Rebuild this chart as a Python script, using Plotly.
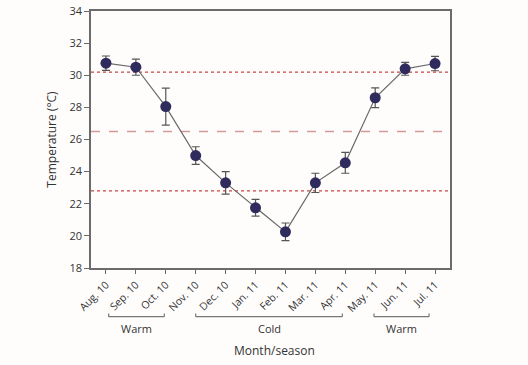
import plotly.graph_objects as go

months = ["Aug. 10", "Sep. 10", "Oct. 10", "Nov. 10", "Dec. 10", "Jan. 11",
          "Feb. 11", "Mar. 11", "Apr. 11", "May. 11", "Jun. 11", "Jul. 11"]
temps = [30.75, 30.5, 28.05, 25.0, 23.3, 21.75, 20.25, 23.3, 24.55, 28.6, 30.4, 30.73]
errs = [0.45, 0.5, 1.15, 0.55, 0.7, 0.52, 0.55, 0.6, 0.65, 0.62, 0.4, 0.45]
mean_line = 26.5
band_lines = [30.2, 22.8]
seasons = ["Warm", "Cold", "Warm"]
season_spans = [(0.09, 1.95), (3.0, 7.9), (8.96, 10.8)]

FONT = "Open Sans"
AX = "#6b6b6b"
BG = "#fefdfc"

fig = go.Figure()
fig.add_trace(go.Scatter(
    x=list(range(len(months))), y=temps,
    mode="lines+markers",
    line=dict(color="#6a6a6a", width=1.2),
    marker=dict(color="#2f2b5c", size=11),
    error_y=dict(type="data", array=errs, visible=True,
                 color="#555555", thickness=1.2, width=4),
    showlegend=False,
))

shapes = []
shapes.append(dict(type="line", xref="paper", yref="y", x0=0, x1=1,
                   y0=mean_line, y1=mean_line,
                   line=dict(color="#d49a9a", width=1.6, dash="dash"), layer="below"))
for v in band_lines:
    shapes.append(dict(type="line", xref="paper", yref="y", x0=0, x1=1, y0=v, y1=v,
                       line=dict(color="#cc4444", width=1.3, dash="dot"), layer="below"))

annotations = []
ybr = -0.1895
ytk = -0.177
for name, (a, b) in zip(seasons, season_spans):
    shapes.append(dict(type="line", xref="x", yref="paper", x0=a, x1=b, y0=ybr, y1=ybr,
                       line=dict(color="#777777", width=1.2)))
    for xx in (a, b):
        shapes.append(dict(type="line", xref="x", yref="paper", x0=xx, x1=xx, y0=ybr, y1=ytk,
                           line=dict(color="#777777", width=1.2)))
    annotations.append(dict(text=name, xref="x", yref="paper", x=(a + b) / 2, y=-0.237,
                            showarrow=False, font=dict(family=FONT, size=11, color="#333333"),
                            xanchor="center", yanchor="middle"))
annotations.append(dict(text="Month/season", xref="paper", yref="paper", x=0.51, y=-0.322,
                        showarrow=False, font=dict(family=FONT, size=12, color="#333333"),
                        xanchor="center", yanchor="middle"))

fig.update_layout(
    width=528, height=365,
    margin=dict(l=91, r=78, t=11, b=97, autoexpand=False),
    paper_bgcolor=BG, plot_bgcolor=BG,
    font=dict(family=FONT, size=11, color="#333333"),
    shapes=shapes, annotations=annotations,
    xaxis=dict(range=[-0.5, 11.5], tickmode="array",
               tickvals=list(range(len(months))), ticktext=months,
               tickangle=-45, showgrid=False, zeroline=False, automargin=False,
               showline=True, linecolor=AX, linewidth=1.5, mirror=True,
               ticks="outside", ticklen=4, tickcolor=AX, ticklabelstandoff=1,
               tickfont=dict(family=FONT, size=10.5, color="#333333")),
    yaxis=dict(range=[18, 34], dtick=2, showgrid=False, zeroline=False, automargin=False,
               showline=True, linecolor=AX, linewidth=1.5, mirror=True,
               ticks="outside", ticklen=5, tickcolor=AX,
               tickfont=dict(family=FONT, size=11, color="#333333"),
               title=dict(text="Temperature (°C)", standoff=10,
                          font=dict(family=FONT, size=12, color="#333333"))),
)

fig.write_html("out.html",
               config={"displayModeBar": False},
               post_script="document.body.style.margin='0';document.body.style.background='%s';" % BG)
